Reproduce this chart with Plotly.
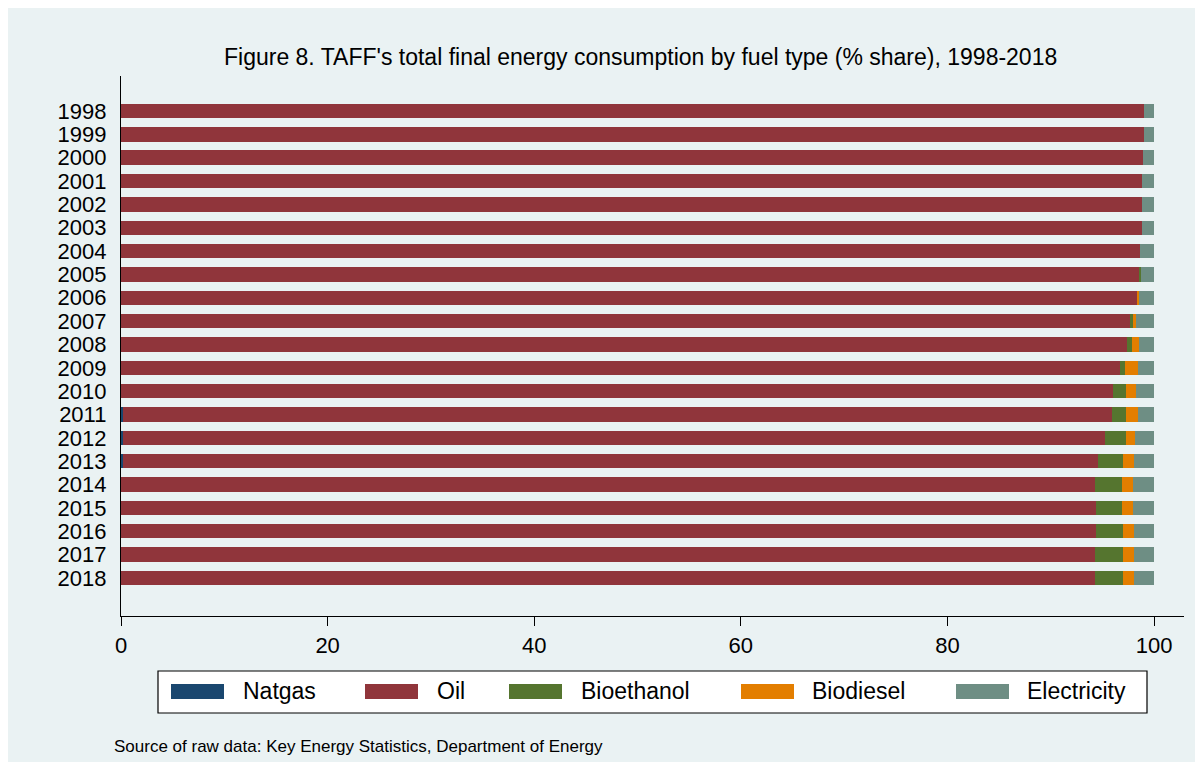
import plotly.graph_objects as go

# Share of total final energy consumption by fuel (%), 1998-2018
years = [str(y) for y in range(1998, 2019)]
natgas = [0, 0, 0, 0, 0, 0, 0, 0, 0, 0, 0, 0, 0, 0.2, 0.2, 0.2, 0, 0, 0, 0, 0]
oil = [99.0, 99.0, 98.9, 98.85, 98.8, 98.85, 98.6, 98.6, 98.4, 97.7, 97.4,
       96.7, 96.0, 95.7, 95.05, 94.4, 94.3, 94.35, 94.35, 94.3, 94.3]
bioethanol = [0, 0, 0, 0, 0, 0, 0, 0.1, 0, 0.3, 0.5,
              0.5, 1.25, 1.35, 2.0, 2.4, 2.6, 2.55, 2.65, 2.7, 2.7]
biodiesel = [0, 0, 0, 0, 0, 0, 0, 0, 0.15, 0.3, 0.6,
             1.2, 1.05, 1.15, 0.95, 1.05, 1.05, 1.1, 1.05, 1.05, 1.05]
electricity = [1.0, 1.0, 1.1, 1.15, 1.2, 1.15, 1.4, 1.3, 1.45, 1.7, 1.5,
               1.6, 1.7, 1.6, 1.8, 1.95, 2.05, 2.0, 1.95, 1.95, 1.95]

series = [
    ("Natgas", natgas, "#1A476F"),
    ("Oil", oil, "#90353B"),
    ("Bioethanol", bioethanol, "#55752F"),
    ("Biodiesel", biodiesel, "#E37E00"),
    ("Electricity", electricity, "#6E8E84"),
]

FONT = "Liberation Sans, Arial, sans-serif"
BG = "#EAF2F3"
W, H = 1203, 769
L, R, T, B = 121, 1184, 76, 616  # plot area in pixels


def px(x):
    return (x - L) / (R - L)


def py(y):
    return (B - y) / (B - T)


fig = go.Figure()
for name, vals, color in series:
    fig.add_trace(go.Bar(
        y=years, x=vals, name=name, orientation="h",
        marker=dict(color=color, line=dict(width=0)),
        width=0.62, showlegend=False,
    ))

shapes = [
    # outer shaded panel
    dict(type="rect", xref="paper", yref="paper", layer="below",
         x0=px(8), x1=px(1195), y0=py(762), y1=py(8),
         fillcolor=BG, line=dict(width=0)),
    # legend box
    dict(type="rect", xref="paper", yref="paper",
         x0=px(158), x1=px(1147), y0=py(713), y1=py(671),
         fillcolor="white", line=dict(color="black", width=1.2)),
]
annotations = []

legend_pos = [(171, 243), (365, 437), (509, 581), (741, 812), (956, 1027)]
for (name, _, color), (sx, tx) in zip(series, legend_pos):
    shapes.append(dict(type="rect", xref="paper", yref="paper",
                       x0=px(sx), x1=px(sx + 53), y0=py(699), y1=py(684),
                       fillcolor=color, line=dict(width=0)))
    annotations.append(dict(xref="paper", yref="paper", x=px(tx - 2), y=py(691),
                            text=name, showarrow=False, xanchor="left",
                            yanchor="middle", font=dict(size=23, color="black", family=FONT)))

annotations.append(dict(
    xref="paper", yref="paper", x=px(640), y=py(57),
    text="Figure 8. TAFF's total final energy consumption by fuel type (% share), 1998-2018",
    showarrow=False, xanchor="center", yanchor="middle",
    font=dict(size=23, color="black", family=FONT)))
annotations.append(dict(
    xref="paper", yref="paper", x=px(112), y=py(746),
    text="Source of raw data: Key Energy Statistics, Department of Energy",
    showarrow=False, xanchor="left", yanchor="middle",
    font=dict(size=17, color="black", family=FONT)))

fig.update_layout(
    width=W, height=H,
    margin=dict(l=L, r=W - R, t=T, b=H - B, pad=0),
    barmode="stack", bargap=0,
    paper_bgcolor="white", plot_bgcolor=BG,
    font=dict(family=FONT, color="black", size=22),
    shapes=shapes, annotations=annotations,
    xaxis=dict(range=[0, 102.9], tickvals=[0, 20, 40, 60, 80, 100],
               showgrid=False, zeroline=False, showline=True,
               linecolor="black", linewidth=1.3, ticks="outside",
               ticklen=9, tickwidth=1.3, tickcolor="black",
               tickfont=dict(size=22, family=FONT)),
    yaxis=dict(type="category", range=[21.63, -1.5], showgrid=False,
               tickmode="array", tickvals=years, ticktext=years,
               zeroline=False, showline=True, linecolor="black",
               linewidth=1.3, ticks="", ticklabelstandoff=9,
               tickfont=dict(size=22, family=FONT)),
)

fig.write_html("out.html")
